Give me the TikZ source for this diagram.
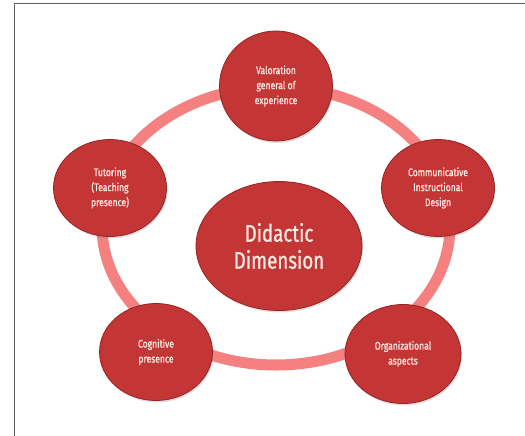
\documentclass[tikz,border=0pt]{standalone}
\usepackage{fontspec}
\setmainfont{Fira Sans}[FakeStretch=0.78,FakeBold=0.9]
\usetikzlibrary{shapes.geometric,shadows}
\definecolor{nodered}{RGB}{196,54,54}
\definecolor{rimred}{RGB}{150,35,35}
\definecolor{ringpink}{RGB}{244,128,128}
\definecolor{labelpink}{RGB}{252,236,228}
\definecolor{framegray}{RGB}{95,95,95}

\begin{document}
\begin{tikzpicture}[x=1pt,y=-1pt,
  dim/.style={ellipse,draw=rimred,line width=0.8pt,fill=nodered,text=labelpink,
    inner sep=0pt,align=center,
    drop shadow={opacity=0.25,shadow xshift=1pt,shadow yshift=-2pt}},
  aspect/.style={dim,minimum width=113pt,minimum height=97pt,
    font=\fontsize{11}{15}\selectfont},
  core/.style={dim,minimum width=166pt,minimum height=129pt,
    font=\fontsize{24}{27}\selectfont}]
\useasboundingbox (0,0) rectangle (525,436);
\draw[framegray,line width=1pt] (14,436) -- (14,4) -- (525,4);

% ring behind the nodes
\draw[ringpink,line width=11pt] (276,226) ellipse [x radius=174pt, y radius=139pt];

\node[core] (didactic) at (279,246) {Didactic\\Dimension};
\node[aspect,minimum height=110pt] (valor) at (276,86) {Valoration\\general of\\experience};
\node[aspect] (tutor) at (110,188) {Tutoring\\(Teaching\\presence)};
\node[aspect] (comm) at (438,188) {Communicative\\Instructional\\Design};
\node[aspect] (cogn) at (156,352) {Cognitive\\presence};
\node[aspect,minimum width=116pt,minimum height=99pt] (organ) at (403,354) {Organizational\\aspects};
\end{tikzpicture}
\end{document}
